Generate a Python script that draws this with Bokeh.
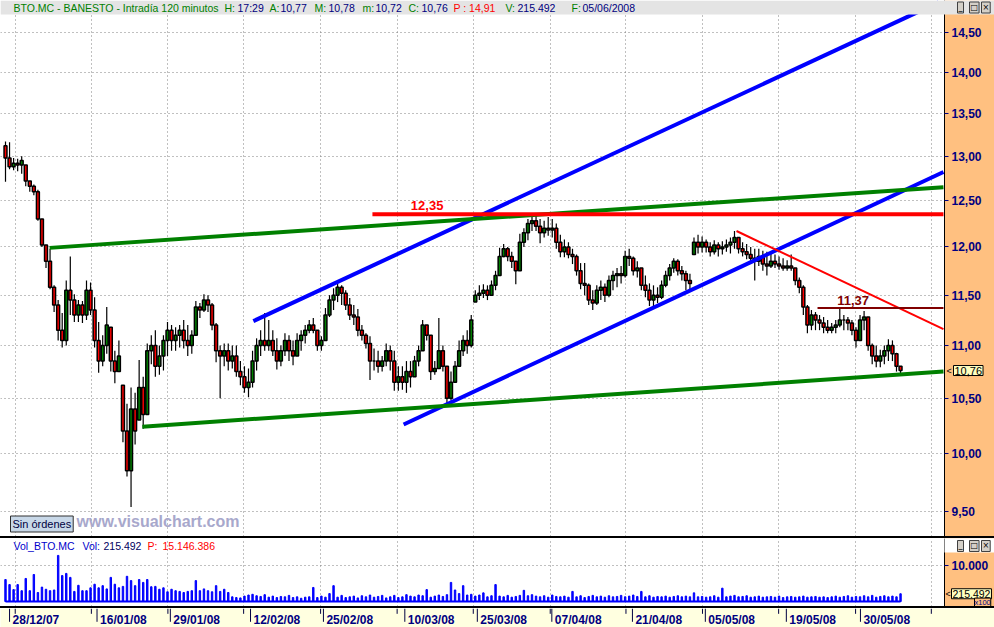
from bokeh.plotting import figure
from bokeh.layouts import column
from bokeh.models import (Range1d, FixedTicker, CustomJSTickFormatter, BoxAnnotation,
                          Label, Grid, Div)
from bokeh.core.properties import value
from bokeh.embed import file_html
from bokeh.resources import INLINE

# ---------------- data (BTO.MC, 120-minute bars, two readings per session) -------------
close = [12.98, 12.88, 12.92, 12.90, 12.95, 12.72, 12.66, 12.60, 12.30, 12.02,
         11.85, 11.58, 11.40, 11.15, 11.05, 11.55, 11.45, 11.30, 11.40, 11.30,
         11.55, 11.35, 11.05, 10.85, 11.00, 11.20, 10.85, 10.75, 10.90, 10.20,
         9.85, 10.40, 10.20, 10.60, 10.35, 10.95, 11.00, 10.80, 10.90, 11.05,
         11.15, 11.05, 11.10, 11.15, 11.05, 11.00, 11.10, 11.38, 11.35, 11.45,
         11.40, 11.20, 10.95, 10.90, 10.95, 10.85, 10.90, 10.75, 10.70, 10.60,
         10.65, 10.85, 11.00, 11.05, 11.00, 11.05, 10.95, 10.85, 10.95, 11.05,
         10.95, 10.90, 11.05, 11.10, 11.15, 11.20, 11.15, 11.00, 11.05, 11.30,
         11.45, 11.50, 11.58, 11.52, 11.40, 11.30, 11.28, 11.15, 11.10, 11.02,
         10.85, 10.85, 10.80, 10.85, 10.95, 10.85, 10.65, 10.70, 10.65, 10.75,
         10.70, 10.85, 10.95, 11.20, 11.10, 10.75, 10.78, 10.95, 10.80, 10.50,
         10.65, 10.80, 10.95, 11.05, 11.00, 11.25, 11.50, 11.52, 11.55, 11.50,
         11.60, 11.70, 11.90, 11.98, 11.90, 11.85, 11.75, 12.05, 12.15, 12.25,
         12.28, 12.22, 12.15, 12.20, 12.18, 12.20, 12.05, 11.95, 12.00, 11.92,
         11.90, 11.75, 11.62, 11.60, 11.45, 11.42, 11.55, 11.58, 11.50, 11.65,
         11.70, 11.72, 11.70, 11.90, 11.88, 11.75, 11.78, 11.60, 11.55, 11.45,
         11.50, 11.48, 11.60, 11.70, 11.78, 11.85, 11.75, 11.72, 11.65, 11.62,
         12.05, 12.00, 12.05, 12.00, 11.95, 12.02, 11.98, 12.00, 12.02, 12.05,
         12.10, 11.98, 11.95, 11.92, 11.88, 11.85, 11.90, 11.82, 11.80, 11.85,
         11.82, 11.80, 11.78, 11.80, 11.78, 11.65, 11.58, 11.38, 11.20, 11.30,
         11.25, 11.22, 11.18, 11.15, 11.18, 11.20, 11.25, 11.25, 11.22, 11.15,
         11.05, 11.25, 11.28, 11.00, 10.90, 10.85, 10.90, 10.95, 11.00, 10.92,
         10.80, 10.76]
high = [13.17, 13.16, 12.98, 12.97, 13.00, 12.90, 12.72, 12.68, 12.62, 12.30,
        12.02, 11.98, 11.60, 11.45, 11.32, 11.65, 11.90, 11.51, 11.45, 11.44,
        11.65, 11.63, 11.48, 11.23, 11.10, 11.38, 11.18, 10.95, 11.05, 10.62,
        10.45, 10.60, 10.55, 10.86, 10.70, 11.02, 11.10, 11.15, 11.00, 11.10,
        11.23, 11.20, 11.18, 11.20, 11.25, 11.20, 11.15, 11.44, 11.42, 11.51,
        11.50, 11.42, 11.22, 11.00, 11.02, 11.02, 11.00, 11.00, 10.85, 10.80,
        10.78, 10.95, 11.07, 11.15, 11.32, 11.25, 11.15, 11.07, 11.00, 11.12,
        11.10, 11.05, 11.12, 11.15, 11.20, 11.25, 11.27, 11.15, 11.09, 11.37,
        11.50, 11.57, 11.62, 11.60, 11.55, 11.47, 11.40, 11.36, 11.20, 11.12,
        11.09, 10.97, 10.95, 10.90, 11.02, 11.00, 10.95, 10.80, 10.80, 10.85,
        10.85, 10.90, 11.00, 11.25, 11.20, 11.10, 10.85, 11.27, 11.00, 10.80,
        10.75, 10.85, 11.05, 11.10, 11.15, 11.30, 11.55, 11.60, 11.61, 11.60,
        11.65, 11.75, 11.99, 12.03, 12.00, 11.95, 11.85, 12.14, 12.20, 12.30,
        12.36, 12.35, 12.30, 12.28, 12.32, 12.30, 12.25, 12.13, 12.08, 12.05,
        11.98, 11.92, 11.83, 11.83, 11.62, 11.55, 11.60, 11.65, 11.62, 11.70,
        11.75, 11.78, 11.80, 11.96, 11.98, 11.90, 11.85, 11.78, 11.70, 11.62,
        11.60, 11.58, 11.65, 11.75, 11.82, 11.88, 11.87, 11.80, 11.75, 11.72,
        12.10, 12.13, 12.11, 12.08, 12.05, 12.07, 12.05, 12.06, 12.08, 12.10,
        12.17, 12.10, 12.05, 12.03, 12.00, 11.98, 11.98, 11.96, 11.95, 11.95,
        11.92, 11.90, 11.88, 11.86, 11.92, 11.78, 11.68, 11.60, 11.40, 11.35,
        11.33, 11.30, 11.28, 11.25, 11.22, 11.25, 11.37, 11.30, 11.28, 11.25,
        11.18, 11.30, 11.34, 11.28, 11.02, 11.00, 10.96, 11.00, 11.06, 11.05,
        10.93, 10.80]
low = [12.71, 12.85, 12.84, 12.83, 12.80, 12.66, 12.60, 12.56, 12.28, 12.00,
       11.78, 11.56, 11.33, 11.05, 10.98, 11.00, 11.30, 11.23, 11.23, 11.22,
       11.25, 11.30, 10.98, 10.74, 10.80, 10.92, 10.75, 10.64, 10.75, 10.10,
       9.80, 9.54, 10.08, 10.30, 10.22, 10.35, 10.82, 10.70, 10.72, 10.76,
       10.90, 10.95, 10.95, 10.98, 10.97, 10.90, 10.92, 11.10, 11.27, 11.33,
       11.33, 11.15, 10.84, 10.50, 10.80, 10.76, 10.78, 10.70, 10.62, 10.55,
       10.51, 10.60, 10.76, 10.90, 10.95, 10.95, 10.90, 10.77, 10.80, 10.90,
       10.85, 10.81, 10.90, 10.95, 11.02, 11.12, 11.12, 10.95, 10.95, 11.05,
       11.28, 11.35, 11.43, 11.40, 11.35, 11.25, 11.20, 11.09, 11.05, 10.97,
       10.67, 10.76, 10.74, 10.75, 10.80, 10.76, 10.57, 10.57, 10.58, 10.55,
       10.60, 10.70, 10.80, 10.95, 11.05, 10.67, 10.72, 10.78, 10.75, 10.43,
       10.48, 10.65, 10.80, 10.90, 10.92, 10.98, 11.43, 11.45, 11.47, 11.45,
       11.50, 11.55, 11.70, 11.89, 11.85, 11.78, 11.61, 11.75, 12.00, 12.07,
       12.17, 12.17, 12.04, 12.10, 12.12, 12.10, 11.98, 11.89, 11.89, 11.88,
       11.82, 11.70, 11.56, 11.50, 11.40, 11.35, 11.40, 11.45, 11.43, 11.48,
       11.55, 11.58, 11.62, 11.68, 11.80, 11.70, 11.68, 11.55, 11.48, 11.39,
       11.39, 11.42, 11.46, 11.58, 11.65, 11.73, 11.70, 11.65, 11.55, 11.55,
       11.92, 11.93, 11.94, 11.94, 11.90, 11.92, 11.90, 11.92, 11.95, 11.93,
       11.98, 11.93, 11.90, 11.87, 11.82, 11.65, 11.80, 11.75, 11.70, 11.78,
       11.78, 11.76, 11.75, 11.75, 11.75, 11.60, 11.52, 11.30, 11.12, 11.15,
       11.15, 11.15, 11.12, 11.12, 11.12, 11.12, 11.18, 11.15, 11.15, 11.10,
       10.98, 11.05, 11.15, 10.95, 10.82, 10.79, 10.79, 10.82, 10.85, 10.85,
       10.75, 10.72]
first_open = 13.12

# volume, in units of 100 shares (axis reads "x100")
volume = [6100, 4700, 3300, 4700, 3000, 6400, 3000, 7500, 2500, 4000,
          3400, 3000, 3200, 12800, 7200, 7800, 6700, 2800, 4500, 3000,
          3000, 3800, 4800, 3800, 4400, 3500, 6700, 4800, 3800, 4200,
          7000, 5800, 4400, 6100, 5300, 6100, 4100, 4200, 3400, 3800,
          2700, 3400, 3000, 2800, 2500, 2800, 3000, 5800, 3000, 3500,
          3000, 2700, 4400, 2800, 3400, 2500, 1300, 1100, 1000, 1500,
          1800, 2000, 1600, 1400, 1900, 1200, 1500, 1100, 1400, 1300,
          1700, 1100, 1300, 900, 1200, 1300, 3900, 1100, 1500, 1200,
          2200, 4400, 1200, 1700, 1100, 1300, 1500, 1000, 1600, 1300,
          1800, 1200, 1400, 1700, 1000, 1300, 1700, 1100, 1300, 1900,
          1500, 1300, 1800, 1600, 3300, 1200, 1500, 1800, 1400, 1900,
          5300, 3200, 2200, 4400, 1800, 2000, 1500, 1800, 2400, 1300,
          1600, 4700, 1500, 1300, 1700, 1200, 1400, 1700, 3100, 1600,
          1900, 1500, 1300, 1600, 1200, 1800, 1400, 1300, 1500, 1200,
          2800, 1300, 1600, 1100, 1400, 1700, 1300, 1500, 1200, 1600,
          1300, 1400, 1700, 1300, 1500, 1800, 1400, 2800, 1300, 1600,
          1200, 1400, 1300, 1500, 1200, 1400, 1600, 1300, 1500, 1300,
          2400, 1300, 1400, 1200, 1300, 1600, 1200, 3700, 1300, 1500,
          1700, 1300, 1400, 1600, 1200, 1300, 1500, 1200, 1300, 1400,
          1200, 1500, 1100, 1300, 1400, 1200, 1300, 1500, 1200, 1300,
          1400, 1200, 1300, 1100, 1300, 1500, 1200, 1400, 1600, 1200,
          1400, 1300, 1600, 1300, 1700, 1200, 1400, 1600, 1300, 1500,
          1300, 2155]

# date axis: labels and the bar index where each session starts
date_labels = ["28/12/07", "16/01/08", "29/01/08", "12/02/08", "25/02/08", "10/03/08",
               "25/03/08", "07/04/08", "21/04/08", "05/05/08", "19/05/08", "30/05/08"]
date_pos = [1.0, 22.6, 40.7, 60.5, 78.5, 98.6, 116.5, 134.9, 154.8, 172.8, 192.8, 211.1]
price_ticks = [9.5, 10.0, 10.5, 11.0, 11.5, 12.0, 12.5, 13.0, 13.5, 14.0, 14.5]
vol_ticks = [10000]

# drawn studies (bar index, price)
blue_up_x, blue_up_y = [61.2, 230.4], [11.24, 14.89]
blue_lo_x, blue_lo_y = [98.3, 231.6], [10.26, 12.82]
green_up_x, green_up_y = [10.9, 231.6], [11.99, 12.65]
green_lo_x, green_lo_y = [33.8, 231.6], [10.24, 10.75]
res_x, res_level, res_label_x = [90.6, 231.6], 12.35, 104.1
red_dn_x, red_dn_y = [180.5, 231.6], [12.17, 11.16]
sup_x, sup_level, sup_label_x = [200.5, 231.6], 11.37, 209.3
last_close, last_volume = 10.76, 215492

# ---------------- layout constants ----------------
W = 994
AX_AT = 231.85          # bar coordinate of the price-scale edge
PH, VH, DH, SEP = 536, 68, 19, 2
FONT = "Liberation Sans"
ORANGE = "#FFC080"
NAVY = "#000080"
GREEN = "#008000"
GRIDC = "#808080"
HEADER_GRAY = "#E4E4E4"
grid_x = [2.4, 21.2, 40.1, 58.8, 77.8, 96.7, 115.5, 134.5, 153.2, 172.1, 190.9, 209.9, 228.6]

xr = Range1d(-1.235, 244.2)


def base_fig(height, y_range, **kw):
    f = figure(width=W, height=height, x_range=xr, y_range=y_range,
               x_axis_location=None, output_backend="svg", toolbar_location=None,
               min_border_left=0, min_border_top=0, min_border_bottom=0, min_border_right=0,
               background_fill_color="white", border_fill_color=ORANGE,
               outline_line_color=None, **kw)
    f.xgrid.visible = False
    return f


def style_axis(ax, ticks, code):
    ax.ticker = FixedTicker(ticks=ticks)
    ax.formatter = CustomJSTickFormatter(code=code)
    ax.fixed_location = AX_AT
    ax.major_label_text_font = FONT
    ax.major_label_text_font_style = "bold"
    ax.major_label_text_font_size = "12px"
    ax.major_label_text_color = NAVY
    ax.axis_line_color = "black"
    ax.major_tick_line_color = NAVY
    ax.major_tick_out = 4
    ax.major_tick_in = 0
    ax.minor_tick_out = 0
    ax.minor_tick_in = 0
    ax.major_label_standoff = 3


def buttons(fig, y):
    for k, sym in enumerate(["_", "□", "×"]):
        fig.add_layout(Label(x=957 + 12 * k, y=y, x_units="screen", text=sym,
                             text_font="DejaVu Sans", text_font_size="8px",
                             text_color="black", text_baseline="middle",
                             background_fill_color="#D4D0C8", border_line_color="#404040",
                             padding=1))


# ---------------- candles ----------------
idx = list(range(len(close)))
opens, prev = [], first_open
for c, h, l in zip(close, high, low):
    opens.append(min(max(prev, l), h))
    prev = c
tops = [max(o, c) for o, c in zip(opens, close)]
bots = [min(o, c) for o, c in zip(opens, close)]
cols = ["#FF0000" if c < o else GREEN for o, c in zip(opens, close)]

p = base_fig(PH, Range1d(9.294, 14.915), y_axis_type="log", y_axis_location="right")
p.ygrid.ticker = FixedTicker(ticks=price_ticks)
p.ygrid.grid_line_color = GRIDC
p.ygrid.grid_line_dash = "1 3"
p.add_layout(Grid(dimension=0, ticker=FixedTicker(ticks=grid_x), grid_line_color=GRIDC,
                  grid_line_dash="1 3"))
p.add_layout(BoxAnnotation(left=AX_AT, fill_color=ORANGE, fill_alpha=1.0, line_color=None,
                           level="underlay"))
style_axis(p.yaxis[0], price_ticks, "return tick.toFixed(2).replace('.', ',');")

p.segment(x0=idx, y0=high, x1=idx, y1=low, line_color="black", line_width=1.2)
p.vbar(x=idx, width=0.72, top=tops, bottom=bots, fill_color=cols, line_color="black",
       line_width=1.5)

p.line(blue_up_x, blue_up_y, line_color="#0000FF", line_width=4)
p.line(blue_lo_x, blue_lo_y, line_color="#0000FF", line_width=4)
p.line(green_up_x, green_up_y, line_color=GREEN, line_width=4)
p.line(green_lo_x, green_lo_y, line_color=GREEN, line_width=4)
p.line(res_x, [res_level, res_level], line_color="#FF0000", line_width=4)
p.line(red_dn_x, red_dn_y, line_color="#FF0000", line_width=2)
p.line(sup_x, [sup_level, sup_level], line_color="#800000", line_width=2)
p.text(x=[res_label_x], y=[res_level], text=[f"{res_level:.2f}".replace(".", ",")],
       text_align="center", text_baseline="bottom", y_offset=-4,
       text_font=value(FONT), text_font_size="13px", text_font_style="bold",
       text_color="#FF0000")
p.text(x=[sup_label_x], y=[sup_level], text=[f"{sup_level:.2f}".replace(".", ",")],
       text_align="center", text_baseline="bottom", y_offset=-3,
       text_font=value(FONT), text_font_size="13px", text_font_style="bold",
       text_color="#800000")

# header strip
p.add_layout(BoxAnnotation(bottom=14.732, fill_color=HEADER_GRAY, fill_alpha=1.0,
                           line_color=None))
hdr_y = 14.823
header = [("BTO.MC - BANESTO - Intradía 120 minutos", GREEN, 13),
          ("H:", GREEN, 224), ("17:29", NAVY, 237),
          ("A:", GREEN, 269), ("10,77", NAVY, 280),
          ("M:", GREEN, 314), ("10,78", NAVY, 328),
          ("m:", GREEN, 362), ("10,72", NAVY, 375),
          ("C:", GREEN, 408), ("10,76", NAVY, 421),
          ("P : 14,91", "#FF0000", 453),
          ("V:", GREEN, 505), ("215.492", NAVY, 517),
          ("F:", GREEN, 571), ("05/06/2008", NAVY, 582)]
for t, c, x in header:
    p.add_layout(Label(x=x, y=hdr_y, x_units="screen", text=t, text_color=c,
                       text_font=FONT, text_font_size="10.5px", text_baseline="middle"))
buttons(p, hdr_y)

p.add_layout(Label(x=946, y=last_close, x_units="screen", text="<", text_font=FONT,
                   text_font_size="9px", text_baseline="middle", text_color="black"))
p.add_layout(Label(x=953, y=last_close, x_units="screen",
                   text=f"{last_close:.2f}".replace(".", ","), text_font=FONT,
                   text_font_size="11px", text_baseline="middle", text_color="black",
                   background_fill_color="#FFFFC0", border_line_color="black", padding=1))

p.add_layout(Label(x=10, y=9.397, x_units="screen", text="Sin órdenes", text_font=FONT,
                   text_font_size="11px", text_baseline="middle", text_color="#000040",
                   background_fill_color="#C8D8E8", border_line_color="#303030", padding=2))
p.add_layout(Label(x=76, y=9.418, x_units="screen", text="www.visualchart.com",
                   text_font=FONT, text_font_size="16px", text_font_style="bold",
                   text_baseline="middle", text_color="#A8A8CC"))

# ---------------- volume ----------------
v = base_fig(VH, Range1d(-1389, 17500), y_axis_location="right")
v.ygrid.ticker = FixedTicker(ticks=vol_ticks)
v.ygrid.grid_line_color = GRIDC
v.ygrid.grid_line_dash = "1 3"
v.add_layout(Grid(dimension=0, ticker=FixedTicker(ticks=grid_x), grid_line_color=GRIDC,
                  grid_line_dash="1 3"))
v.add_layout(BoxAnnotation(left=AX_AT, fill_color=ORANGE, fill_alpha=1.0, line_color=None,
                           level="underlay"))
style_axis(v.yaxis[0], vol_ticks, "return (tick/1000).toFixed(3);")

v.vbar(x=idx, width=0.35, top=volume, bottom=0, fill_color="#0000FF", line_color="#0000FF",
       line_width=1)
v.segment(x0=[idx[0]], y0=[0], x1=[idx[-1]], y1=[0], line_color="#0000FF", line_width=2)

v.add_layout(BoxAnnotation(left=AX_AT, bottom=13611, fill_color="white", fill_alpha=1.0,
                           line_color=None))
vh_y = 15417
vhead = [("Vol_BTO.MC", "#0000CC", 13), ("Vol:", "#0000CC", 82),
         (f"{last_volume:,}".replace(",", "."), "#000060", 103),
         ("P:", "#FF0000", 147), ("15.146.386", "#FF0000", 162)]
for t, c, x in vhead:
    v.add_layout(Label(x=x, y=vh_y, x_units="screen", text=t, text_color=c,
                       text_font=FONT, text_font_size="10.5px", text_baseline="middle"))
buttons(v, vh_y)
v.add_layout(Label(x=945, y=last_volume / 100, x_units="screen", text="<", text_font=FONT,
                   text_font_size="9px", text_baseline="middle", text_color="black"))
v.add_layout(Label(x=951, y=last_volume / 100, x_units="screen",
                   text=f"{last_volume:,}".replace(",", "."), text_font=FONT,
                   text_font_size="10.5px", text_baseline="middle", text_color="black",
                   background_fill_color="#FFFFC0", border_line_color="black", padding=1))
v.add_layout(Label(x=974, y=-300, x_units="screen", text="x100", text_font=FONT,
                   text_font_size="7.5px", text_baseline="middle", text_color=NAVY,
                   background_fill_color=ORANGE, border_line_color="black", padding=0))

# ---------------- date strip ----------------
d = figure(width=W, height=DH, x_range=xr, y_range=Range1d(0, 1),
           x_axis_location=None, y_axis_location=None,
           output_backend="svg", toolbar_location=None,
           min_border_left=0, min_border_top=0, min_border_bottom=0, min_border_right=0,
           background_fill_color="#FFFFE0", border_fill_color="#FFFFE0",
           outline_line_color=None)
d.grid.visible = False
d.segment(x0=date_pos, y0=[1] * len(date_pos), x1=date_pos, y1=[0.3] * len(date_pos),
          line_color="#000040", line_width=1)
d.segment(x0=grid_x, y0=[1] * len(grid_x), x1=grid_x, y1=[0.72] * len(grid_x),
          line_color="#000040", line_width=1)
d.text(x=date_pos, y=[0.38] * len(date_pos), text=date_labels, x_offset=3,
       text_align="left", text_baseline="middle", text_font=value(FONT),
       text_font_style="bold", text_font_size="12px", text_color=NAVY)


def sep():
    return Div(text="", width=W, height=SEP, margin=0, styles={"background-color": "black"})


layout = column(p, sep(), v, sep(), d, spacing=0)
open("out.html", "w").write(file_html(layout, INLINE))
